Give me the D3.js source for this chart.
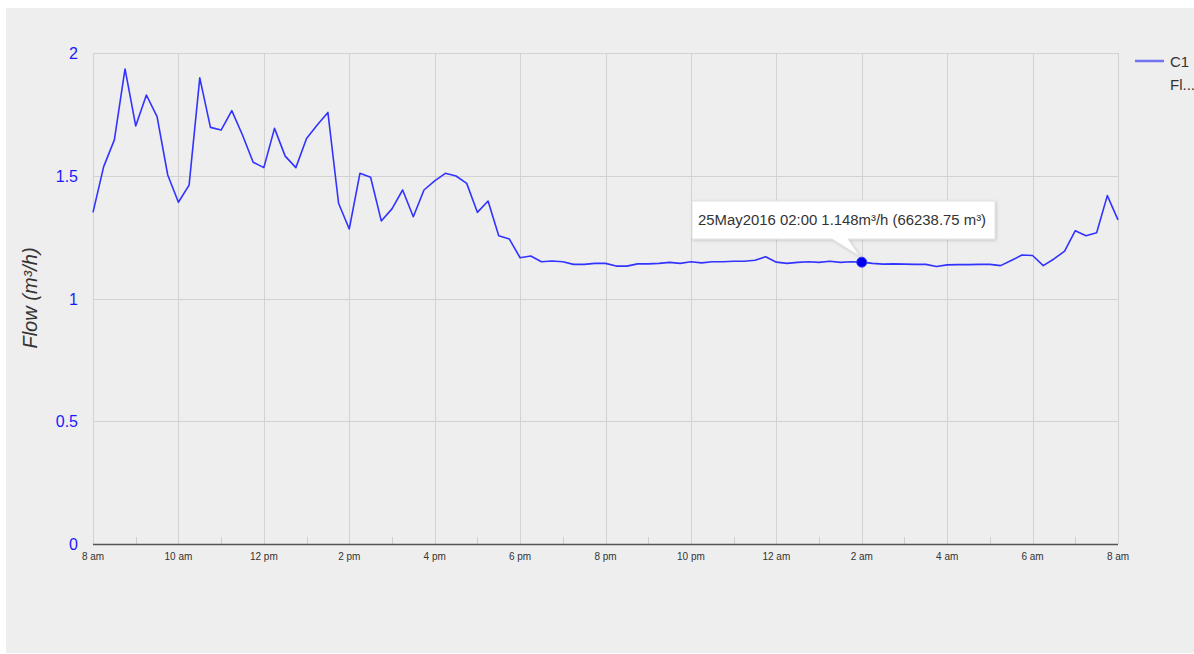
<!DOCTYPE html>
<html>
<head>
<meta charset="utf-8">
<script src="https://cdn.jsdelivr.net/npm/d3@7"></script>
<style>
  html, body { margin: 0; padding: 0; background: #fff; }
  svg { display: block; font-family: "Liberation Sans", Arial, sans-serif; }
  .grid line { stroke: #d2d2d2; stroke-width: 1; shape-rendering: crispEdges; }
  .y-label { fill: #1a1aff; font-size: 16px; }
  .x-label { fill: #333; font-size: 10px; }
</style>
</head>
<body>
<svg width="1194" height="654"></svg>
<script>
// flow readings, one every 15 minutes from 24 May 2016 08:00 to 25 May 2016 08:00
const flowValues = [
  1.351, 1.537, 1.646, 1.935, 1.703, 1.829, 1.741, 1.503,
  1.392, 1.462, 1.899, 1.697, 1.686, 1.765, 1.666, 1.555,
  1.533, 1.693, 1.580, 1.533, 1.652, 1.707, 1.758, 1.388,
  1.283, 1.510, 1.494, 1.316, 1.365, 1.442, 1.333, 1.442,
  1.479, 1.510, 1.499, 1.469, 1.351, 1.397, 1.256, 1.242,
  1.166, 1.173, 1.150, 1.153, 1.150, 1.139, 1.139, 1.143,
  1.143, 1.132, 1.132, 1.141, 1.141, 1.143, 1.147, 1.143,
  1.150, 1.145, 1.150, 1.150, 1.152, 1.152, 1.156, 1.170,
  1.148, 1.143, 1.147, 1.150, 1.147, 1.152, 1.147, 1.150,
  1.148, 1.143, 1.140, 1.141, 1.140, 1.139, 1.139, 1.130,
  1.137, 1.138, 1.138, 1.139, 1.139, 1.134, 1.155, 1.177,
  1.175, 1.134, 1.161, 1.193, 1.276, 1.256, 1.268, 1.419,
  1.320
];
const startTime = new Date(2016, 4, 24, 8, 0);
const endTime = new Date(2016, 4, 25, 8, 0);
const stepMinutes = 15;

const yTicks = [0, 0.5, 1, 1.5, 2];
const seriesName = 'C1';
const seriesSub = 'Fl...';
const yTitle = 'Flow (m³/h)';

// highlighted point
const hoverIndex = 72;
const hoverText = '25May2016 02:00 1.148m³/h (66238.75 m³)';

const data = flowValues.map((v, i) => ({
  t: d3.timeMinute.offset(startTime, i * stepMinutes),
  v: v
}));

const svg = d3.select('svg');
const margin = { left: 93, top: 53, right: 1118, bottom: 544 };

svg.append('rect')
  .attr('x', 6).attr('y', 8)
  .attr('width', 1188).attr('height', 645)
  .attr('fill', '#eeeeee');

const x = d3.scaleTime()
  .domain([startTime, endTime])
  .range([margin.left, margin.right]);

const y = d3.scaleLinear()
  .domain([0, 2])
  .range([margin.bottom, margin.top]);

// grid
const grid = svg.append('g').attr('class', 'grid');
grid.selectAll('.v').data(x.ticks(d3.timeHour.every(2)))
  .enter().append('line')
  .attr('x1', d => Math.round(x(d)) + 0.5).attr('x2', d => Math.round(x(d)) + 0.5)
  .attr('y1', margin.top).attr('y2', margin.bottom);
grid.selectAll('.h').data(yTicks.filter(d => d > 0))
  .enter().append('line')
  .attr('y1', d => Math.round(y(d)) + 0.5).attr('y2', d => Math.round(y(d)) + 0.5)
  .attr('x1', margin.left).attr('x2', margin.right);

// minor ticks on odd hours
svg.append('g').selectAll('line')
  .data(d3.timeHour.range(startTime, endTime).filter(d => d.getHours() % 2 === 1))
  .enter().append('line')
  .attr('x1', d => Math.round(x(d)) + 0.5).attr('x2', d => Math.round(x(d)) + 0.5)
  .attr('y1', margin.bottom - 7).attr('y2', margin.bottom)
  .attr('stroke', '#cfcfcf')
  .attr('shape-rendering', 'crispEdges');

// x axis line
svg.append('line')
  .attr('x1', margin.left).attr('x2', margin.right)
  .attr('y1', margin.bottom + 0.5).attr('y2', margin.bottom + 0.5)
  .attr('stroke', '#555')
  .attr('stroke-width', 1.5);

const hourFormat = d3.timeFormat('%-I %p');
svg.append('g').selectAll('text')
  .data(x.ticks(d3.timeHour.every(2)))
  .enter().append('text')
  .attr('class', 'x-label')
  .attr('x', d => x(d))
  .attr('y', 560)
  .attr('text-anchor', 'middle')
  .text(d => hourFormat(d).toLowerCase());

// y labels
svg.append('g').selectAll('text')
  .data(yTicks)
  .enter().append('text')
  .attr('class', 'y-label')
  .attr('x', 78)
  .attr('y', d => y(d) + 6)
  .attr('text-anchor', 'end')
  .text(d => d);

svg.append('text')
  .attr('transform', 'translate(37,298) rotate(-90)')
  .attr('text-anchor', 'middle')
  .attr('font-size', 20)
  .attr('font-style', 'italic')
  .attr('fill', '#333')
  .text(yTitle);

// series
const line = d3.line()
  .x(d => x(d.t))
  .y(d => y(d.v));

svg.append('path')
  .datum(data)
  .attr('d', line)
  .attr('fill', 'none')
  .attr('stroke', '#3333ff')
  .attr('stroke-width', 1.6)
  .attr('stroke-linejoin', 'round');

// legend
svg.append('line')
  .attr('x1', 1135).attr('x2', 1164)
  .attr('y1', 61).attr('y2', 61)
  .attr('stroke', '#7373f0')
  .attr('stroke-width', 2.5);
svg.append('text')
  .attr('x', 1170).attr('y', 67)
  .attr('font-size', 15).attr('fill', '#333')
  .text(seriesName);
svg.append('text')
  .attr('x', 1170).attr('y', 90)
  .attr('font-size', 15).attr('fill', '#333')
  .text(seriesSub);

// tooltip
const hp = data[hoverIndex];
const px = x(hp.t), py = y(hp.v);
const bx = 692, by = 201, bw = 303, bh = 38;
const tipPath = [
  [bx, by], [bx + bw, by], [bx + bw, by + bh],
  [848, by + bh], [px - 2, py - 6], [832, by + bh],
  [bx, by + bh]
];
const defs = svg.append('defs');
const f = defs.append('filter').attr('id', 'shadow')
  .attr('x', -0.05).attr('y', -0.2).attr('width', 1.1).attr('height', 1.5);
f.append('feDropShadow')
  .attr('dx', 1).attr('dy', 1).attr('stdDeviation', 1.5)
  .attr('flood-color', '#000').attr('flood-opacity', 0.18);

svg.append('path')
  .attr('d', d3.line()(tipPath) + 'Z')
  .attr('fill', '#fff')
  .attr('stroke', '#e2e2e2')
  .attr('filter', 'url(#shadow)');
svg.append('text')
  .attr('x', 698).attr('y', 225)
  .attr('font-size', 14.9).attr('fill', '#333')
  .text(hoverText);

svg.append('circle')
  .attr('cx', px).attr('cy', py)
  .attr('r', 5)
  .attr('fill', '#0000ee')
  .attr('stroke', '#3333ff');
</script>
</body>
</html>
